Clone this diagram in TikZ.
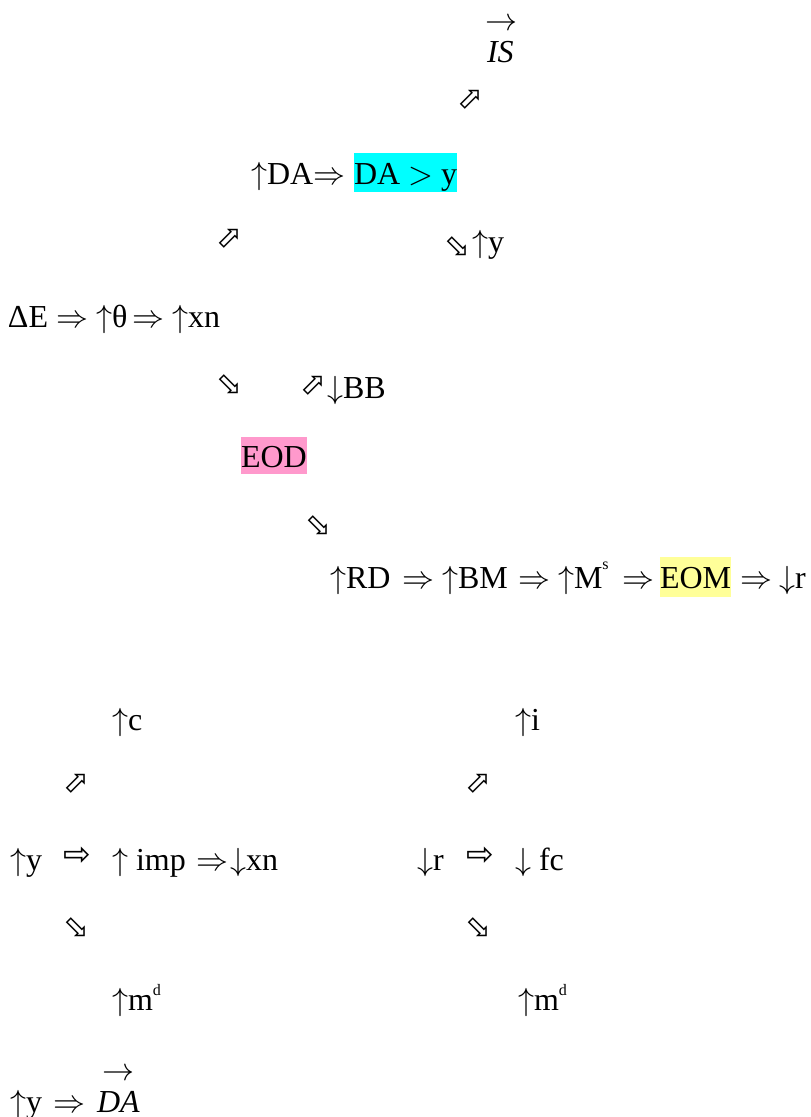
\documentclass[tikz,border=0pt]{standalone}
\usepackage{fontspec}
\setmainfont{Liberation Serif}
\newfontfamily\symfont{DejaVu Sans}
\DeclareFontShape{OMS}{cmsy}{m}{n}{<->cmsy10}{}
\DeclareFontShape{OML}{cmm}{m}{it}{<->cmmi10}{}
\DeclareFontShape{OT1}{cmr}{m}{n}{<->cmr10}{}
\DeclareFontShape{OMX}{cmex}{m}{n}{<->cmex10}{}
\usetikzlibrary{positioning}
\definecolor{hlcyan}{HTML}{00FFFF}
\definecolor{hlpink}{HTML}{FF99CC}
\definecolor{hlyellow}{HTML}{FFFF99}
\newcommand{\uarr}{$\uparrow$}
\newcommand{\darr}{$\downarrow$}
\newcommand{\impl}{$\Rightarrow$}
\newcommand{\neup}{{\symfont ⬀}}
\newcommand{\sedown}{{\symfont ⬂}}
\newcommand{\wright}{{\symfont ⇨}}
\newcommand{\supr}[2]{\raisebox{#1pt}{\fontsize{16}{16}\selectfont #2}}

\begin{document}
\begin{tikzpicture}[
    x=1pt,y=-1pt,
    every node/.style={inner sep=0pt, outer sep=0pt, font=\fontsize{32}{38}\selectfont},
    myterm/.style={anchor=base west},
    myimp/.style={anchor=base west},
    mydiag/.style={anchor=center, font=\fontsize{31}{36}\selectfont},
    mywhite/.style={anchor=center, font=\fontsize{33}{38}\selectfont},
    myhl/.style={anchor=base west, text height=31pt, text depth=8pt},
    myvec/.style={anchor=center}
]
\useasboundingbox (0,0) rectangle (811,1117);

% top: IS and DA > y
\node[myvec] (isvec) at (501,25) {$\rightarrow$};
\node[myterm] (is) at (487,62) {\textit{IS}};
\node[mydiag] (ne1) at (470,100) {\neup};
\node[myterm] (upda) at (251,184) {\uarr DA};
\node[myimp] (imp1) at (313,184) {\impl};
\node[myhl, fill=hlcyan] (dagty) at (354,184) {DA $>$ y};
\node[mydiag] (ne2) at (229,239) {\neup};
\node[mydiag] (se1) at (457,247) {\sedown};
\node[myterm] (upy1) at (472,252) {\uarr y};

% energy row
\node[myterm] (de) at (8,327) {ΔE};
\node[myimp] (imp2) at (56,327) {\impl};
\node[myterm] (uptheta) at (96,327) {\uarr θ};
\node[myimp] (imp3) at (132,327) {\impl};
\node[myterm] (upxn) at (172,327) {\uarr xn};
\node[mydiag] (se2) at (229,385) {\sedown};
\node[mydiag] (ne3) at (313,386) {\neup};
\node[myterm] (downbb) at (327,398) {\darr BB};
\node[myhl, fill=hlpink, text height=30pt, text depth=7pt] (eod) at (241,467) {EOD};
\node[mydiag] (se3) at (318,526) {\sedown};

% money row
\node[myterm] (uprd) at (330,588) {\uarr RD};
\node[myimp] (imp4) at (402,588) {\impl};
\node[myterm] (upbm) at (442,588) {\uarr BM};
\node[myimp] (imp5) at (518,588) {\impl};
\node[myterm] (upms) at (558,588) {\uarr M\supr{19}{s}};
\node[myimp] (imp6) at (622,588) {\impl};
\node[myhl, fill=hlyellow, text height=31pt, text depth=9pt] (eom) at (660,588) {EOM};
\node[myimp] (imp7) at (740,588) {\impl};
\node[myterm] (downr1) at (779,588) {\darr r};

% left branch
\node[myterm] (upc) at (112,730) {\uarr c};
\node[mydiag] (ne4) at (76,784) {\neup};
\node[myterm] (upy2) at (10,870) {\uarr y};
\node[mywhite] (w1) at (77,856) {\wright};
\node[myterm] (upimp) at (112,870) {\uarr\ imp};
\node[myimp] (imp8) at (196,870) {\impl};
\node[myterm] (downxn) at (230,870) {\darr xn};
\node[mydiag] (se4) at (76,928) {\sedown};
\node[myterm] (upmd1) at (112,1010) {\uarr m\supr{15}{d}};

% right branch
\node[myterm] (upi) at (515,730) {\uarr i};
\node[mydiag] (ne5) at (478,784) {\neup};
\node[myterm] (downr2) at (417,870) {\darr r};
\node[mywhite] (w2) at (480,856) {\wright};
\node[myterm] (downfc) at (515,870) {\darr\ fc};
\node[mydiag] (se5) at (478,928) {\sedown};
\node[myterm] (upmd2) at (518,1010) {\uarr m\supr{15}{d}};

% bottom
\node[myterm] (upy3) at (10,1112) {\uarr y};
\node[myimp] (imp9) at (53,1112) {\impl};
\node[myvec] (davec) at (118,1075) {$\rightarrow$};
\node[myterm] (da) at (97,1112) {\textit{DA}};

\end{tikzpicture}
\end{document}
